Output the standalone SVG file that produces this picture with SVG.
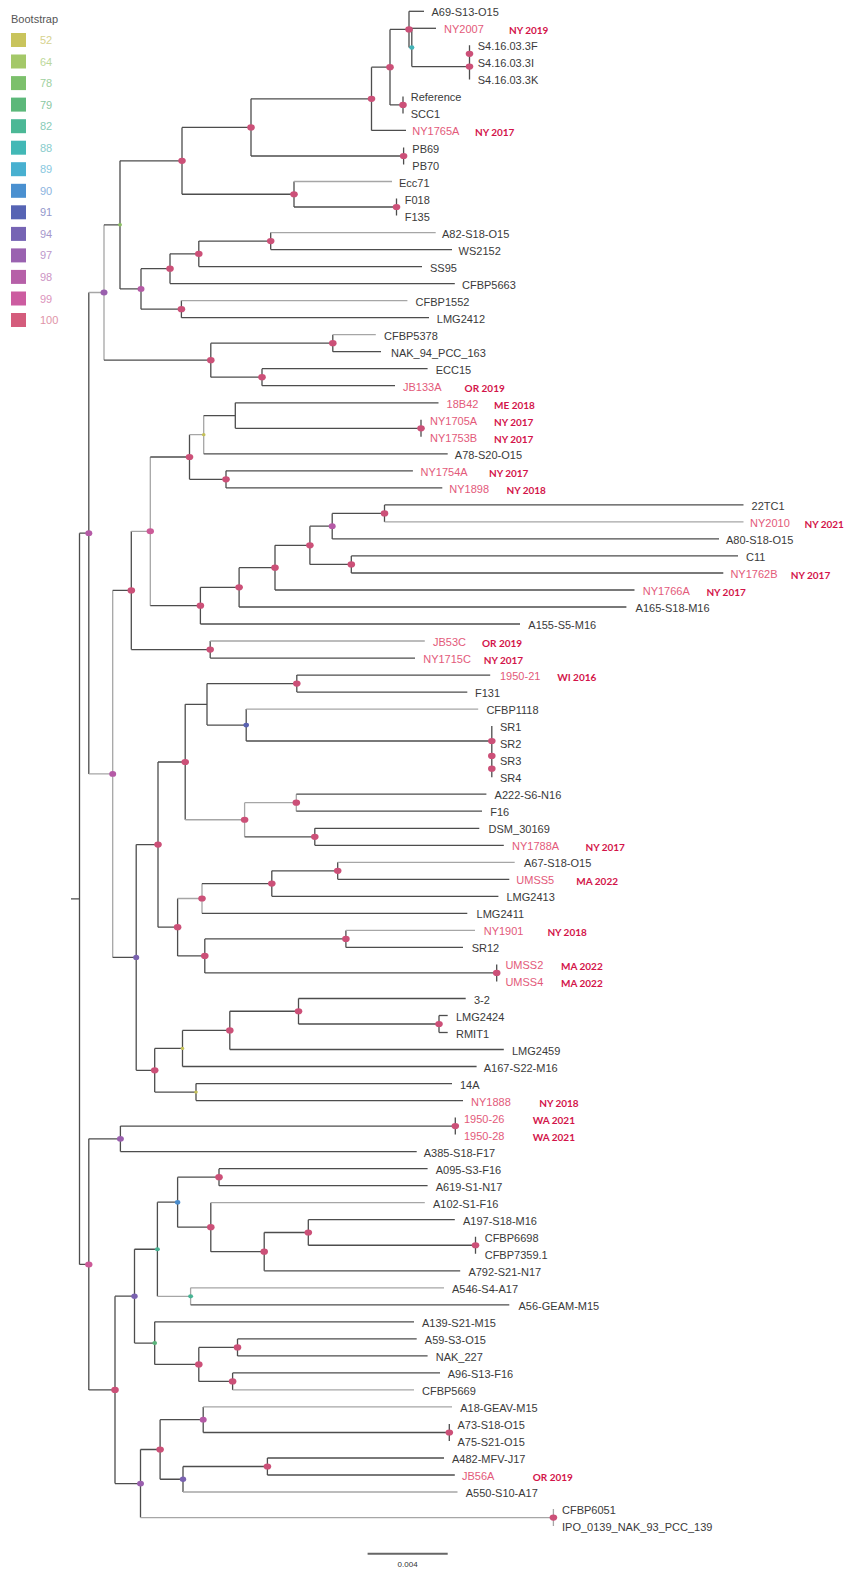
<svg xmlns="http://www.w3.org/2000/svg" width="854" height="1575" viewBox="0 0 854 1575">
<style>
.bg{fill:#fff}
.ln path{fill:none;stroke:#4d4d4d;stroke-width:1.3}
.ln path.g{stroke:#a6a6a6}
.t{font-family:"Liberation Sans",Arial,sans-serif;font-size:11px;fill:#3a3a3a}
.r{fill:#e35a7a}
.yr{font-family:Lato,"Liberation Sans",sans-serif;font-size:10px;font-weight:700;fill:#d3144a}
.lg{font-family:"Liberation Sans",Arial,sans-serif;font-size:11px}
.d100{fill:#cc5078}
.d99{fill:#cc5a98}
.d98{fill:#b55aa6}
.d97{fill:#9a5fae}
.d94{fill:#7a62b0}
.d91{fill:#5a62b2}
.d90{fill:#4a8ccc}
.d88{fill:#42b4b8}
.d82{fill:#48b494}
.d79{fill:#5ab47a}
.d64{fill:#8cc064}
.d52{fill:#c4c058}
</style>
<rect class="bg" x="0" y="0" width="854" height="1575"/>
<g id="legend">
<text class="lg" x="11" y="23" fill="#555">Bootstrap</text>
<rect x="11" y="33" width="15" height="14" fill="#c9c45c"/><text class="lg" x="40" y="44" fill="#d6d28e">52</text>
<rect x="11" y="54.5" width="15" height="14" fill="#a4c868"/><text class="lg" x="40" y="65.5" fill="#bcd89a">64</text>
<rect x="11" y="76.1" width="15" height="14" fill="#7cc06c"/><text class="lg" x="40" y="87.1" fill="#9ed0a0">78</text>
<rect x="11" y="97.6" width="15" height="14" fill="#5cb87a"/><text class="lg" x="40" y="108.6" fill="#8cc8a2">79</text>
<rect x="11" y="119.2" width="15" height="14" fill="#4cb896"/><text class="lg" x="40" y="130.2" fill="#88ccb8">82</text>
<rect x="11" y="140.7" width="15" height="14" fill="#42b8b6"/><text class="lg" x="40" y="151.7" fill="#88cccc">88</text>
<rect x="11" y="162.2" width="15" height="14" fill="#48b0d0"/><text class="lg" x="40" y="173.2" fill="#88c8e0">89</text>
<rect x="11" y="183.8" width="15" height="14" fill="#4a90d0"/><text class="lg" x="40" y="194.8" fill="#8cb4e0">90</text>
<rect x="11" y="205.3" width="15" height="14" fill="#5664b4"/><text class="lg" x="40" y="216.3" fill="#9298cc">91</text>
<rect x="11" y="226.9" width="15" height="14" fill="#7664b4"/><text class="lg" x="40" y="237.9" fill="#a698cc">94</text>
<rect x="11" y="248.4" width="15" height="14" fill="#9a62b0"/><text class="lg" x="40" y="259.4" fill="#bc98cc">97</text>
<rect x="11" y="269.9" width="15" height="14" fill="#b660a8"/><text class="lg" x="40" y="280.9" fill="#cc94c4">98</text>
<rect x="11" y="291.5" width="15" height="14" fill="#cc5ca0"/><text class="lg" x="40" y="302.5" fill="#dc94bc">99</text>
<rect x="11" y="313" width="15" height="14" fill="#d45c7c"/><text class="lg" x="40" y="324" fill="#e094a8">100</text>
</g>
<g id="connectors" class="ln">
<path d="M71 898.8H79.5M79.5 533.2V1264.4"/>
<path d="M79.5 533.2H88.8M88.8 292.5V773.9"/>
<path d="M88.8 292.5H104M104 224.85V360.2" class="g"/>
<path d="M104 224.85H120M120 160.8V288.9"/>
<path d="M120 160.8H182M182 127.4V194.25"/>
<path d="M182 127.4H251M251 98.8V156"/>
<path d="M251 98.8H371.5M371.5 67.15V130.4"/>
<path d="M371.5 67.15H390M390 29.4V104.9"/>
<path d="M390 29.4H409M409 11.3V47.45"/>
<path d="M409 47.45H411.8M411.8 28.3V66.6"/>
<path d="M411.8 66.6H469.5M469.5 45.3V79.4"/>
<path d="M390 104.9H403M403 96.4V113.4"/>
<path d="M251 156H403.6M403.6 147.5V164.5"/>
<path d="M182 194.25H294M294 181.5V207"/>
<path d="M294 207H396.5M396.5 198.5V215.5"/>
<path d="M120 288.9H141M141 268.7V309.15"/>
<path d="M141 268.7H170M170 253.85V283.6"/>
<path d="M170 253.85H198.8M198.8 241.1V266.6"/>
<path d="M198.8 241.1H270.7M270.7 232.6V249.6"/>
<path d="M141 309.15H181.4M181.4 300.6V317.7"/>
<path d="M104 360.2H210.8M210.8 343.2V377.2"/>
<path d="M210.8 343.2H332.8M332.8 334.7V351.7"/>
<path d="M210.8 377.2H262M262 368.7V385.7"/>
<path d="M88.8 773.9H112.7M112.7 590.4V957.45" class="g"/>
<path d="M112.7 590.4H131.3M131.3 531.3V649.55"/>
<path d="M131.3 531.3H150.3M150.3 457V605.65" class="g"/>
<path d="M150.3 457H189.5M189.5 434.7V479.35"/>
<path d="M189.5 434.7H203.7M203.7 415.55V453.8" class="g"/>
<path d="M203.7 415.55H235.3M235.3 402.8V428.3"/>
<path d="M235.3 428.3H421M421 419.8V436.8"/>
<path d="M189.5 479.35H226M226 470.8V487.9"/>
<path d="M150.3 605.65H200.4M200.4 587.3V624"/>
<path d="M200.4 587.3H239.1M239.1 567.65V607"/>
<path d="M239.1 567.65H275M275 545.3V590"/>
<path d="M275 545.3H309.9M309.9 526.15V564.45"/>
<path d="M309.9 526.15H332.2M332.2 513.4V538.9"/>
<path d="M332.2 513.4H384.5M384.5 504.9V521.9"/>
<path d="M309.9 564.45H351.3M351.3 555.9V573"/>
<path d="M131.3 649.55H210.2M210.2 641V658.1"/>
<path d="M112.7 957.45H136.2M136.2 844.6V1070.3"/>
<path d="M136.2 844.6H158M158 762V927.2"/>
<path d="M158 762H185.2M185.2 704.3V819.75"/>
<path d="M185.2 704.3H207M207 683.6V725.05"/>
<path d="M207 683.6H296.8M296.8 675.1V692.1"/>
<path d="M207 725.05H246.2M246.2 709.1V741"/>
<path d="M246.2 741H491.8M491.8 726.1V777.2"/>
<path d="M185.2 819.75H244.6M244.6 802.7V836.8" class="g"/>
<path d="M244.6 802.7H296.3M296.3 794.2V811.2" class="g"/>
<path d="M244.6 836.8H314.8M314.8 828.3V845.3"/>
<path d="M158 927.2H177.6M177.6 898.5V955.9"/>
<path d="M177.6 898.5H202M202 883.55V913.4" class="g"/>
<path d="M202 883.55H271.8M271.8 870.8V896.3"/>
<path d="M271.8 870.8H337.7M337.7 862.3V879.3"/>
<path d="M177.6 955.9H204.8M204.8 938.9V972.9"/>
<path d="M204.8 938.9H345.9M345.9 930.4V947.4"/>
<path d="M204.8 972.9H496.7M496.7 964.4V981.4"/>
<path d="M136.2 1070.3H154.7M154.7 1048.45V1092.1"/>
<path d="M154.7 1048.45H182.5M182.5 1030.4V1066.5"/>
<path d="M182.5 1030.4H229.8M229.8 1011.25V1049.5"/>
<path d="M229.8 1011.25H298.5M298.5 998.5V1024"/>
<path d="M298.5 1024H439M439 1015.5V1032.5"/>
<path d="M154.7 1092.1H196M196 1083.6V1100.6"/>
<path d="M79.5 1264.4H88.8M88.8 1138.85V1389.9"/>
<path d="M88.8 1138.85H120.4M120.4 1126.1V1151.6"/>
<path d="M120.4 1126.1H455.3M455.3 1117.6V1134.6"/>
<path d="M88.8 1389.9H115M115 1296.2V1483.55"/>
<path d="M115 1296.2H134.5M134.5 1249.25V1343.1"/>
<path d="M134.5 1249.25H157.4M157.4 1202.2V1296.3"/>
<path d="M157.4 1202.2H177.6M177.6 1177.2V1227.2"/>
<path d="M177.6 1177.2H219M219 1168.7V1185.7"/>
<path d="M177.6 1227.2H210.8M210.8 1202.7V1251.65"/>
<path d="M210.8 1251.65H264.2M264.2 1232.5V1270.8"/>
<path d="M264.2 1232.5H308.3M308.3 1219.7V1245.25"/>
<path d="M308.3 1245.25H475.5M475.5 1236.7V1253.8"/>
<path d="M157.4 1296.3H190.6M190.6 1287.8V1304.8" class="g"/>
<path d="M134.5 1343.1H154.7M154.7 1321.8V1364.4"/>
<path d="M154.7 1364.4H198.8M198.8 1347.4V1381.4"/>
<path d="M198.8 1347.4H237.5M237.5 1338.9V1355.9"/>
<path d="M198.8 1381.4H232.6M232.6 1372.9V1389.9"/>
<path d="M115 1483.55H140.5M140.5 1449.5V1517.6"/>
<path d="M140.5 1449.5H160.1M160.1 1419.7V1479.25"/>
<path d="M160.1 1419.7H203.2M203.2 1406.9V1432.5"/>
<path d="M203.2 1432.5H449.3M449.3 1424V1441"/>
<path d="M160.1 1479.25H183M183 1466.5V1492"/>
<path d="M183 1466.5H267.4M267.4 1458V1475"/>
<path d="M140.5 1517.6H553.4M553.4 1509.1V1526.1" class="g"/>
<path d="M409 11.3H424"/>
<path d="M411.8 28.3H436"/>
<path d="M371.5 130.4H406"/>
<path d="M294 181.5H392" class="g"/>
<path d="M270.7 232.6H435.7" class="g"/>
<path d="M270.7 249.6H452"/>
<path d="M198.8 266.6H422"/>
<path d="M170 283.6H454.8"/>
<path d="M181.4 300.6H407.4" class="g"/>
<path d="M181.4 317.7H429"/>
<path d="M332.8 334.7H375.8" class="g"/>
<path d="M332.8 351.7H381"/>
<path d="M262 368.7H427.6"/>
<path d="M262 385.7H395"/>
<path d="M235.3 402.8H438.5"/>
<path d="M203.7 453.8H447.7"/>
<path d="M226 470.8H412.9"/>
<path d="M226 487.9H442.3"/>
<path d="M384.5 504.9H743.5"/>
<path d="M384.5 521.9H743.5" class="g"/>
<path d="M332.2 538.9H719"/>
<path d="M351.3 555.9H738"/>
<path d="M351.3 573H723.3"/>
<path d="M275 590H634.5"/>
<path d="M239.1 607H626.4"/>
<path d="M200.4 624H520"/>
<path d="M210.2 641H424.8" class="g"/>
<path d="M210.2 658.1H415"/>
<path d="M296.8 675.1H490.2"/>
<path d="M296.8 692.1H467.3"/>
<path d="M246.2 709.1H478.2" class="g"/>
<path d="M296.3 794.2H486.4"/>
<path d="M296.3 811.2H482"/>
<path d="M314.8 828.3H479.3"/>
<path d="M314.8 845.3H503.8"/>
<path d="M337.7 862.3H514.7" class="g"/>
<path d="M337.7 879.3H509.3"/>
<path d="M271.8 896.3H498.4"/>
<path d="M202 913.4H467.3"/>
<path d="M345.9 930.4H475" class="g"/>
<path d="M345.9 947.4H463"/>
<path d="M298.5 998.5H465.7"/>
<path d="M439 1015.5H447.7"/>
<path d="M439 1032.5H447.7"/>
<path d="M229.8 1049.5H503.8"/>
<path d="M182.5 1066.5H476.6"/>
<path d="M196 1083.6H452"/>
<path d="M196 1100.6H463"/>
<path d="M120.4 1151.6H416.7"/>
<path d="M219 1168.7H427.6"/>
<path d="M219 1185.7H427.6"/>
<path d="M210.8 1202.7H424.8" class="g"/>
<path d="M308.3 1219.7H454.8"/>
<path d="M264.2 1270.8H460.2"/>
<path d="M190.6 1287.8H444" class="g"/>
<path d="M190.6 1304.8H509.3"/>
<path d="M154.7 1321.8H414"/>
<path d="M237.5 1338.9H416.7"/>
<path d="M237.5 1355.9H427.6"/>
<path d="M232.6 1372.9H440"/>
<path d="M232.6 1389.9H414" class="g"/>
<path d="M203.2 1406.9H452" class="g"/>
<path d="M267.4 1458H444"/>
<path d="M267.4 1475H454.8"/>
<path d="M183 1492H457.5" class="g"/>
</g>
<g id="bootstrap-dots">
<ellipse class="d100" cx="409" cy="29.4" rx="3.8" ry="3.1"/>
<ellipse class="d88" cx="411.8" cy="47.45" rx="2.6" ry="2.2"/>
<ellipse class="d100" cx="469.5" cy="53.85" rx="3.8" ry="3.1"/>
<ellipse class="d100" cx="469.5" cy="66.6" rx="3.8" ry="3.1"/>
<ellipse class="d100" cx="403" cy="104.9" rx="3.8" ry="3.1"/>
<ellipse class="d100" cx="390" cy="67.15" rx="3.8" ry="3.1"/>
<ellipse class="d100" cx="371.5" cy="98.8" rx="3.8" ry="3.1"/>
<ellipse class="d100" cx="251" cy="127.4" rx="3.8" ry="3.1"/>
<ellipse class="d100" cx="403.6" cy="156" rx="3.8" ry="3.1"/>
<ellipse class="d100" cx="294" cy="194.25" rx="3.8" ry="3.1"/>
<ellipse class="d100" cx="396.5" cy="207" rx="3.8" ry="3.1"/>
<ellipse class="d100" cx="182" cy="160.8" rx="3.8" ry="3.1"/>
<ellipse class="d64" cx="120" cy="224.85" rx="2" ry="1.8"/>
<ellipse class="d100" cx="270.7" cy="241.1" rx="3.8" ry="3.1"/>
<ellipse class="d100" cx="198.8" cy="253.85" rx="3.8" ry="3.1"/>
<ellipse class="d100" cx="170" cy="268.7" rx="3.8" ry="3.1"/>
<ellipse class="d100" cx="181.4" cy="309.15" rx="3.8" ry="3.1"/>
<ellipse class="d98" cx="141" cy="288.9" rx="3.5" ry="2.9"/>
<ellipse class="d97" cx="104" cy="292.5" rx="3.5" ry="2.9"/>
<ellipse class="d100" cx="332.8" cy="343.2" rx="3.8" ry="3.1"/>
<ellipse class="d100" cx="262" cy="377.2" rx="3.8" ry="3.1"/>
<ellipse class="d100" cx="210.8" cy="360.2" rx="3.8" ry="3.1"/>
<ellipse class="d98" cx="88.8" cy="533.2" rx="3.5" ry="2.9"/>
<ellipse class="d100" cx="421" cy="428.3" rx="3.8" ry="3.1"/>
<ellipse class="d52" cx="203.7" cy="434.7" rx="1.8" ry="1.6"/>
<ellipse class="d100" cx="189.5" cy="457" rx="3.8" ry="3.1"/>
<ellipse class="d100" cx="226" cy="479.35" rx="3.8" ry="3.1"/>
<ellipse class="d100" cx="384.5" cy="513.4" rx="3.8" ry="3.1"/>
<ellipse class="d98" cx="332.2" cy="526.15" rx="3.5" ry="2.9"/>
<ellipse class="d100" cx="351.3" cy="564.45" rx="3.8" ry="3.1"/>
<ellipse class="d100" cx="309.9" cy="545.3" rx="3.8" ry="3.1"/>
<ellipse class="d100" cx="275" cy="567.65" rx="3.8" ry="3.1"/>
<ellipse class="d100" cx="239.1" cy="587.3" rx="3.8" ry="3.1"/>
<ellipse class="d100" cx="200.4" cy="605.65" rx="3.8" ry="3.1"/>
<ellipse class="d99" cx="150.3" cy="531.3" rx="3.7" ry="3"/>
<ellipse class="d100" cx="210.2" cy="649.55" rx="3.8" ry="3.1"/>
<ellipse class="d100" cx="131.3" cy="590.4" rx="3.8" ry="3.1"/>
<ellipse class="d98" cx="112.7" cy="773.9" rx="3.5" ry="2.9"/>
<ellipse class="d100" cx="296.8" cy="683.6" rx="3.8" ry="3.1"/>
<ellipse class="d100" cx="491.8" cy="741" rx="3.8" ry="3.1"/>
<ellipse class="d100" cx="491.8" cy="755.95" rx="3.8" ry="3.1"/>
<ellipse class="d100" cx="491.8" cy="768.7" rx="3.8" ry="3.1"/>
<ellipse class="d91" cx="246.2" cy="725.05" rx="2.8" ry="2.4"/>
<ellipse class="d100" cx="185.2" cy="762" rx="3.8" ry="3.1"/>
<ellipse class="d100" cx="296.3" cy="802.7" rx="3.8" ry="3.1"/>
<ellipse class="d100" cx="314.8" cy="836.8" rx="3.8" ry="3.1"/>
<ellipse class="d100" cx="244.6" cy="819.75" rx="3.8" ry="3.1"/>
<ellipse class="d100" cx="158" cy="844.6" rx="3.8" ry="3.1"/>
<ellipse class="d100" cx="337.7" cy="870.8" rx="3.8" ry="3.1"/>
<ellipse class="d100" cx="271.8" cy="883.55" rx="3.8" ry="3.1"/>
<ellipse class="d100" cx="202" cy="898.5" rx="3.8" ry="3.1"/>
<ellipse class="d100" cx="345.9" cy="938.9" rx="3.8" ry="3.1"/>
<ellipse class="d100" cx="496.7" cy="972.9" rx="3.8" ry="3.1"/>
<ellipse class="d100" cx="204.8" cy="955.9" rx="3.8" ry="3.1"/>
<ellipse class="d100" cx="177.6" cy="927.2" rx="3.8" ry="3.1"/>
<ellipse class="d94" cx="136.2" cy="957.45" rx="3" ry="2.6"/>
<ellipse class="d100" cx="439" cy="1024" rx="3.8" ry="3.1"/>
<ellipse class="d100" cx="298.5" cy="1011.25" rx="3.8" ry="3.1"/>
<ellipse class="d100" cx="229.8" cy="1030.4" rx="3.8" ry="3.1"/>
<ellipse class="d52" cx="182.5" cy="1048.45" rx="1.8" ry="1.6"/>
<ellipse class="d52" cx="196" cy="1092.1" rx="1.8" ry="1.6"/>
<ellipse class="d100" cx="154.7" cy="1070.3" rx="3.8" ry="3.1"/>
<ellipse class="d99" cx="88.8" cy="1264.4" rx="3.7" ry="3"/>
<ellipse class="d97" cx="120.4" cy="1138.85" rx="3.5" ry="2.9"/>
<ellipse class="d100" cx="455.3" cy="1126.1" rx="3.8" ry="3.1"/>
<ellipse class="d100" cx="115" cy="1389.9" rx="3.8" ry="3.1"/>
<ellipse class="d94" cx="134.5" cy="1296.2" rx="3.2" ry="2.7"/>
<ellipse class="d82" cx="157.4" cy="1249.25" rx="2.5" ry="2.1"/>
<ellipse class="d90" cx="177.6" cy="1202.2" rx="2.7" ry="2.3"/>
<ellipse class="d100" cx="219" cy="1177.2" rx="3.8" ry="3.1"/>
<ellipse class="d100" cx="210.8" cy="1227.2" rx="3.8" ry="3.1"/>
<ellipse class="d100" cx="264.2" cy="1251.65" rx="3.8" ry="3.1"/>
<ellipse class="d100" cx="308.3" cy="1232.5" rx="3.8" ry="3.1"/>
<ellipse class="d100" cx="475.5" cy="1245.25" rx="3.8" ry="3.1"/>
<ellipse class="d82" cx="190.6" cy="1296.3" rx="2.5" ry="2.1"/>
<ellipse class="d79" cx="154.7" cy="1343.1" rx="2.4" ry="2"/>
<ellipse class="d100" cx="198.8" cy="1364.4" rx="3.8" ry="3.1"/>
<ellipse class="d100" cx="237.5" cy="1347.4" rx="3.8" ry="3.1"/>
<ellipse class="d100" cx="232.6" cy="1381.4" rx="3.8" ry="3.1"/>
<ellipse class="d97" cx="140.5" cy="1483.55" rx="3.5" ry="2.9"/>
<ellipse class="d100" cx="160.1" cy="1449.5" rx="3.8" ry="3.1"/>
<ellipse class="d98" cx="203.2" cy="1419.7" rx="3.5" ry="2.9"/>
<ellipse class="d100" cx="449.3" cy="1432.5" rx="3.8" ry="3.1"/>
<ellipse class="d94" cx="183" cy="1479.25" rx="3.2" ry="2.7"/>
<ellipse class="d100" cx="267.4" cy="1466.5" rx="3.8" ry="3.1"/>
<ellipse class="d100" cx="553.4" cy="1517.6" rx="3.8" ry="3.1"/>
</g>
<g id="leaf-A69-S13-O15"><text class="t" x="431.5" y="16.3">A69-S13-O15</text></g>
<g id="leaf-NY2007"><text class="t r" x="444" y="33.3">NY2007</text><text class="yr" x="509" y="34.3">NY 2019</text></g>
<g id="leaf-S4.16.03.3F"><text class="t" x="477.7" y="50.3">S4.16.03.3F</text></g>
<g id="leaf-S4.16.03.3I"><text class="t" x="477.7" y="67.4">S4.16.03.3I</text></g>
<g id="leaf-S4.16.03.3K"><text class="t" x="477.7" y="84.4">S4.16.03.3K</text></g>
<g id="leaf-Reference"><text class="t" x="410.7" y="101.4">Reference</text></g>
<g id="leaf-SCC1"><text class="t" x="410.7" y="118.4">SCC1</text></g>
<g id="leaf-NY1765A"><text class="t r" x="412.3" y="135.4">NY1765A</text><text class="yr" x="475" y="136.4">NY 2017</text></g>
<g id="leaf-PB69"><text class="t" x="412.3" y="152.5">PB69</text></g>
<g id="leaf-PB70"><text class="t" x="412.3" y="169.5">PB70</text></g>
<g id="leaf-Ecc71"><text class="t" x="399" y="186.5">Ecc71</text></g>
<g id="leaf-F018"><text class="t" x="404.7" y="203.5">F018</text></g>
<g id="leaf-F135"><text class="t" x="404.7" y="220.5">F135</text></g>
<g id="leaf-A82-S18-O15"><text class="t" x="442" y="237.6">A82-S18-O15</text></g>
<g id="leaf-WS2152"><text class="t" x="458.6" y="254.6">WS2152</text></g>
<g id="leaf-SS95"><text class="t" x="430" y="271.6">SS95</text></g>
<g id="leaf-CFBP5663"><text class="t" x="462" y="288.6">CFBP5663</text></g>
<g id="leaf-CFBP1552"><text class="t" x="415.6" y="305.6">CFBP1552</text></g>
<g id="leaf-LMG2412"><text class="t" x="436.8" y="322.7">LMG2412</text></g>
<g id="leaf-CFBP5378"><text class="t" x="384" y="339.7">CFBP5378</text></g>
<g id="leaf-NAK_94_PCC_163"><text class="t" x="391" y="356.7">NAK_94_PCC_163</text></g>
<g id="leaf-ECC15"><text class="t" x="435.7" y="373.7">ECC15</text></g>
<g id="leaf-JB133A"><text class="t r" x="403" y="390.7">JB133A</text><text class="yr" x="464.6" y="391.7">OR 2019</text></g>
<g id="leaf-18B42"><text class="t r" x="446.6" y="407.8">18B42</text><text class="yr" x="494" y="408.8">ME 2018</text></g>
<g id="leaf-NY1705A"><text class="t r" x="430" y="424.8">NY1705A</text><text class="yr" x="494" y="425.8">NY 2017</text></g>
<g id="leaf-NY1753B"><text class="t r" x="430" y="441.8">NY1753B</text><text class="yr" x="494" y="442.8">NY 2017</text></g>
<g id="leaf-A78-S20-O15"><text class="t" x="454.8" y="458.8">A78-S20-O15</text></g>
<g id="leaf-NY1754A"><text class="t r" x="420.5" y="475.8">NY1754A</text><text class="yr" x="489" y="476.8">NY 2017</text></g>
<g id="leaf-NY1898"><text class="t r" x="449.3" y="492.9">NY1898</text><text class="yr" x="506.5" y="493.9">NY 2018</text></g>
<g id="leaf-22TC1"><text class="t" x="751.6" y="509.9">22TC1</text></g>
<g id="leaf-NY2010"><text class="t r" x="750" y="526.9">NY2010</text><text class="yr" x="804.5" y="527.9">NY 2021</text></g>
<g id="leaf-A80-S18-O15"><text class="t" x="726" y="543.9">A80-S18-O15</text></g>
<g id="leaf-C11"><text class="t" x="746" y="560.9">C11</text></g>
<g id="leaf-NY1762B"><text class="t r" x="730.4" y="578">NY1762B</text><text class="yr" x="790.8" y="579">NY 2017</text></g>
<g id="leaf-NY1766A"><text class="t r" x="642.7" y="595">NY1766A</text><text class="yr" x="706.4" y="596">NY 2017</text></g>
<g id="leaf-A165-S18-M16"><text class="t" x="635.6" y="612">A165-S18-M16</text></g>
<g id="leaf-A155-S5-M16"><text class="t" x="528.3" y="629">A155-S5-M16</text></g>
<g id="leaf-JB53C"><text class="t r" x="433" y="646">JB53C</text><text class="yr" x="482" y="647">OR 2019</text></g>
<g id="leaf-NY1715C"><text class="t r" x="423.2" y="663.1">NY1715C</text><text class="yr" x="483.7" y="664.1">NY 2017</text></g>
<g id="leaf-1950-21"><text class="t r" x="500" y="680.1">1950-21</text><text class="yr" x="557.2" y="681.1">WI 2016</text></g>
<g id="leaf-F131"><text class="t" x="475" y="697.1">F131</text></g>
<g id="leaf-CFBP1118"><text class="t" x="486.4" y="714.1">CFBP1118</text></g>
<g id="leaf-SR1"><text class="t" x="500" y="731.1">SR1</text></g>
<g id="leaf-SR2"><text class="t" x="500" y="748.2">SR2</text></g>
<g id="leaf-SR3"><text class="t" x="500" y="765.2">SR3</text></g>
<g id="leaf-SR4"><text class="t" x="500" y="782.2">SR4</text></g>
<g id="leaf-A222-S6-N16"><text class="t" x="494.6" y="799.2">A222-S6-N16</text></g>
<g id="leaf-F16"><text class="t" x="490.2" y="816.2">F16</text></g>
<g id="leaf-DSM_30169"><text class="t" x="488.6" y="833.3">DSM_30169</text></g>
<g id="leaf-NY1788A"><text class="t r" x="512" y="850.3">NY1788A</text><text class="yr" x="585.5" y="851.3">NY 2017</text></g>
<g id="leaf-A67-S18-O15"><text class="t" x="524" y="867.3">A67-S18-O15</text></g>
<g id="leaf-UMSS5"><text class="t r" x="516.3" y="884.3">UMSS5</text><text class="yr" x="576.3" y="885.3">MA 2022</text></g>
<g id="leaf-LMG2413"><text class="t" x="506.5" y="901.3">LMG2413</text></g>
<g id="leaf-LMG2411"><text class="t" x="476.6" y="918.4">LMG2411</text></g>
<g id="leaf-NY1901"><text class="t r" x="483.7" y="935.4">NY1901</text><text class="yr" x="547.4" y="936.4">NY 2018</text></g>
<g id="leaf-SR12"><text class="t" x="471.7" y="952.4">SR12</text></g>
<g id="leaf-UMSS2"><text class="t r" x="505.4" y="969.4">UMSS2</text><text class="yr" x="561" y="970.4">MA 2022</text></g>
<g id="leaf-UMSS4"><text class="t r" x="505.4" y="986.4">UMSS4</text><text class="yr" x="561" y="987.4">MA 2022</text></g>
<g id="leaf-3-2"><text class="t" x="473.9" y="1003.5">3-2</text></g>
<g id="leaf-LMG2424"><text class="t" x="456" y="1020.5">LMG2424</text></g>
<g id="leaf-RMIT1"><text class="t" x="456" y="1037.5">RMIT1</text></g>
<g id="leaf-LMG2459"><text class="t" x="512" y="1054.5">LMG2459</text></g>
<g id="leaf-A167-S22-M16"><text class="t" x="483.7" y="1071.5">A167-S22-M16</text></g>
<g id="leaf-14A"><text class="t" x="460" y="1088.6">14A</text></g>
<g id="leaf-NY1888"><text class="t r" x="471" y="1105.6">NY1888</text><text class="yr" x="539.2" y="1106.6">NY 2018</text></g>
<g id="leaf-1950-26"><text class="t r" x="464" y="1122.6">1950-26</text><text class="yr" x="532.7" y="1123.6">WA 2021</text></g>
<g id="leaf-1950-28"><text class="t r" x="464" y="1139.6">1950-28</text><text class="yr" x="532.7" y="1140.6">WA 2021</text></g>
<g id="leaf-A385-S18-F17"><text class="t" x="423.7" y="1156.6">A385-S18-F17</text></g>
<g id="leaf-A095-S3-F16"><text class="t" x="435.7" y="1173.7">A095-S3-F16</text></g>
<g id="leaf-A619-S1-N17"><text class="t" x="435.7" y="1190.7">A619-S1-N17</text></g>
<g id="leaf-A102-S1-F16"><text class="t" x="433" y="1207.7">A102-S1-F16</text></g>
<g id="leaf-A197-S18-M16"><text class="t" x="463" y="1224.7">A197-S18-M16</text></g>
<g id="leaf-CFBP6698"><text class="t" x="484.7" y="1241.7">CFBP6698</text></g>
<g id="leaf-CFBP7359.1"><text class="t" x="484.7" y="1258.8">CFBP7359.1</text></g>
<g id="leaf-A792-S21-N17"><text class="t" x="468.4" y="1275.8">A792-S21-N17</text></g>
<g id="leaf-A546-S4-A17"><text class="t" x="452" y="1292.8">A546-S4-A17</text></g>
<g id="leaf-A56-GEAM-M15"><text class="t" x="518.5" y="1309.8">A56-GEAM-M15</text></g>
<g id="leaf-A139-S21-M15"><text class="t" x="422" y="1326.8">A139-S21-M15</text></g>
<g id="leaf-A59-S3-O15"><text class="t" x="424.8" y="1343.9">A59-S3-O15</text></g>
<g id="leaf-NAK_227"><text class="t" x="435.7" y="1360.9">NAK_227</text></g>
<g id="leaf-A96-S13-F16"><text class="t" x="447.7" y="1377.9">A96-S13-F16</text></g>
<g id="leaf-CFBP5669"><text class="t" x="422" y="1394.9">CFBP5669</text></g>
<g id="leaf-A18-GEAV-M15"><text class="t" x="460.2" y="1411.9">A18-GEAV-M15</text></g>
<g id="leaf-A73-S18-O15"><text class="t" x="457.5" y="1429">A73-S18-O15</text></g>
<g id="leaf-A75-S21-O15"><text class="t" x="457.5" y="1446">A75-S21-O15</text></g>
<g id="leaf-A482-MFV-J17"><text class="t" x="452" y="1463">A482-MFV-J17</text></g>
<g id="leaf-JB56A"><text class="t r" x="462" y="1480">JB56A</text><text class="yr" x="532.7" y="1481">OR 2019</text></g>
<g id="leaf-A550-S10-A17"><text class="t" x="465.7" y="1497">A550-S10-A17</text></g>
<g id="leaf-CFBP6051"><text class="t" x="562" y="1514.1">CFBP6051</text></g>
<g id="leaf-IPO_0139_NAK_93_PCC_139"><text class="t" x="562" y="1531.1">IPO_0139_NAK_93_PCC_139</text></g>
<g id="scale-bar">
<path d="M367.6 1553.7H447.7" stroke="#666" stroke-width="2" fill="none"/>
<text x="407.6" y="1567" text-anchor="middle" font-family="Liberation Sans, Arial, sans-serif" font-size="8" fill="#333">0.004</text>
</g>
</svg>
